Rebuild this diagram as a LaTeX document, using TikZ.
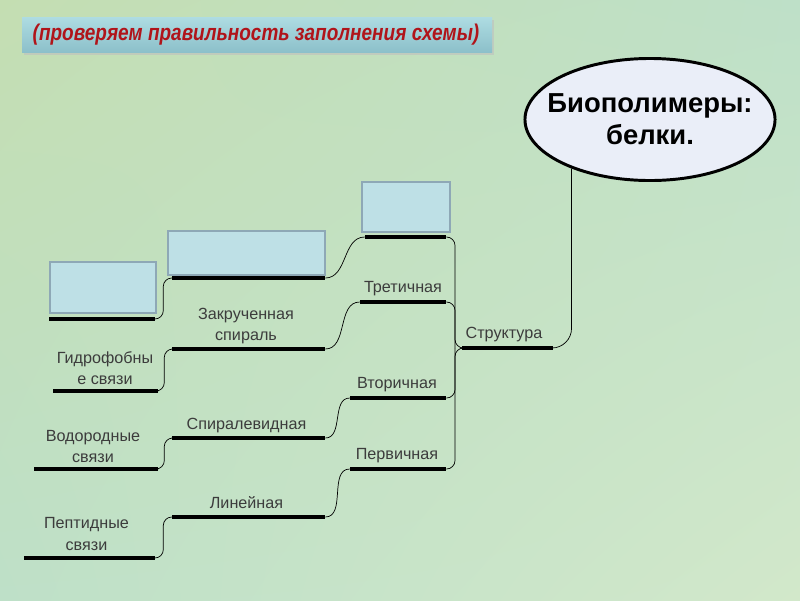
\documentclass[tikz,border=0pt]{standalone}
\usepackage{fontspec}
\setmainfont{Liberation Sans}
\usepackage{tikz}
\usetikzlibrary{positioning,shapes.geometric,shadings}
\definecolor{BgGreen}{HTML}{C4DEB2}
\definecolor{BgPale}{HTML}{D2E8CA}
\definecolor{BgAqua}{HTML}{BEE0C8}
\definecolor{BannerTop}{HTML}{AEDCE2}
\definecolor{BannerLow}{HTML}{8CC0CA}
\definecolor{TitleRed}{HTML}{B0141A}
\definecolor{BoxFill}{HTML}{BEE0E6}
\definecolor{BoxEdge}{HTML}{8EA8B6}
\definecolor{EllFill}{HTML}{EAEEF8}
\definecolor{LabelGray}{HTML}{3C3C3C}
\tikzset{
  barline/.style={fill=black,inner sep=0pt,minimum height=2.8pt},
  emptybox/.style={draw=BoxEdge,fill=BoxFill,line width=1.1pt,inner sep=0pt},
  lbl/.style={font=\fontsize{11.5}{15}\selectfont\color{LabelGray},align=center,inner sep=1pt},
  link/.style={draw=black,line width=0.5pt},
  linkR/.style={link,rounded corners=6pt},
}

\begin{document}
\begin{tikzpicture}[x=0.025cm,y=-0.025cm]
  \shade[upper left=BgGreen,upper right=BgAqua,lower left=BgAqua,lower right=BgPale]
    (0,0) rectangle (800,600);
  \useasboundingbox (0,0) rectangle (800,600);
  \fill[black!25,opacity=0.6] (24,20) rectangle (494,55);
  \shade[top color=BannerTop,bottom color=BannerLow] (22,17) rectangle (492,52);
  \node[font=\fontsize{13.5}{16}\selectfont\bfseries\itshape\color{TitleRed},yscale=1.2,transform shape] (title) at (256,34.5)
    {(проверяем правильность заполнения схемы)};
  \node[ellipse,draw=black,line width=2.1pt,fill=EllFill,minimum width=6.25cm,minimum height=3.05cm,
    font=\fontsize{19.5}{23}\selectfont\bfseries,align=center,inner xsep=-12pt,inner ysep=0pt] (bio) at (650,119.5)
    {Биополимеры:\\белки.};
  \node[emptybox,minimum width=2.65cm,minimum height=1.275cm] (box1) at (103,287.5) {};
  \node[emptybox,minimum width=3.925cm,minimum height=1.1cm] (box2) at (246.5,253) {};
  \node[emptybox,minimum width=2.2cm,minimum height=1.25cm] (box3) at (406,207) {};
  \node[barline,minimum width=2.65cm] (bx1) at (102,319) {};
  \node[barline,minimum width=3.825cm] (bx2) at (248.5,278) {};
  \node[barline,minimum width=2.025cm] (bx3) at (405.5,237) {};
  \node[barline,minimum width=2.15cm] (tert) at (403,302) {};
  \node[barline,minimum width=3.825cm] (zakr) at (248.5,349) {};
  \node[barline,minimum width=2.625cm] (gidr) at (105.5,391) {};
  \node[barline,minimum width=2.4cm] (vtor) at (398,398) {};
  \node[barline,minimum width=3.825cm] (spir) at (248.5,438) {};
  \node[barline,minimum width=3.1cm] (vodor) at (96,469) {};
  \node[barline,minimum width=2.4cm] (perv) at (398,469) {};
  \node[barline,minimum width=3.825cm] (lin) at (248.5,517) {};
  \node[barline,minimum width=3.275cm] (pept) at (89.5,558) {};
  \node[barline,minimum width=2.275cm] (strukt) at (507.5,348) {};
  \node[lbl] (lTert) at (403,289) {Третичная};
  \node[lbl] (lZakr) at (246,326) {Закрученная\\спираль};
  \node[lbl] (lGidr) at (105,368) {Гидрофобны\\е связи};
  \node[lbl] (lVtor) at (397,385) {Вторичная};
  \node[lbl] (lSpir) at (246.5,426) {Спиралевидная};
  \node[lbl] (lVodor) at (93,446.5) {Водородные\\связи};
  \node[lbl] (lPerv) at (397,456) {Первичная};
  \node[lbl] (lLin) at (246.5,503) {Линейная};
  \node[lbl] (lPept) at (86.5,534) {Пептидные\\связи};
  \node[lbl] (lStrukt) at (504,335) {Структура};
  \coordinate (brc) at (455,348);
  \draw[linkR] (bx1.east) -- ++(8,0) |- (bx2.west);
  \draw[linkR] (gidr.east) -- ++(6,0) |- (zakr.west);
  \draw[linkR] (vodor.east) -- ++(6,0) |- (spir.west);
  \draw[linkR] (pept.east) -- ++(8,0) |- (lin.west);
  \draw[link] (bx2.east) to[out=0,in=180] (bx3.west);
  \draw[link] (zakr.east) to[out=0,in=180] (tert.west);
  \draw[link] (spir.east) to[out=0,in=180] (vtor.west);
  \draw[link] (lin.east) to[out=0,in=180] (perv.west);
  \draw[linkR] (bx3.east) -| (brc) -- (strukt.west);
  \draw[linkR] (perv.east) -| (brc) -- (strukt.west);
  \draw[linkR] (tert.east) -| (brc);
  \draw[linkR] (vtor.east) -| (brc);
  \draw[link,rounded corners=14pt] (bio.212) |- (strukt.east);
\end{tikzpicture}
\end{document}
